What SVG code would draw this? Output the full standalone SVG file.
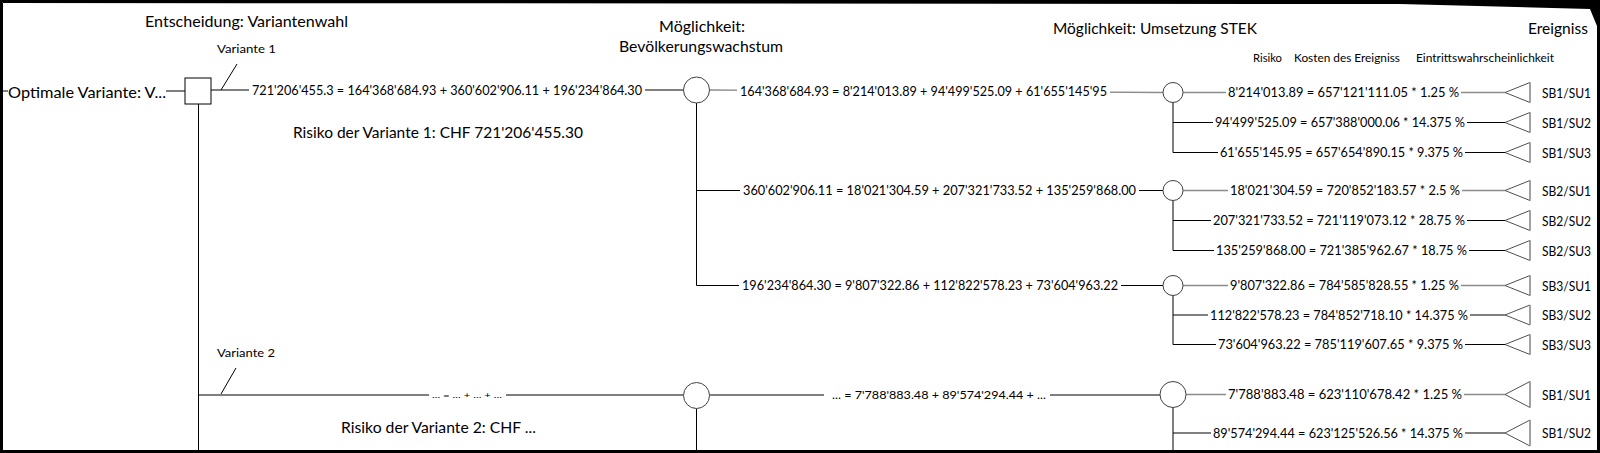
<svg xmlns="http://www.w3.org/2000/svg" width="1600" height="453" viewBox="0 0 1600 453">
<style>
text{font-family:Lato,"Open Sans","Liberation Sans",sans-serif;fill:#000}
.h{font-size:15px}
.m{font-size:13px}
.s{font-size:12px}
.xs{font-size:11px}
.t{font-size:8px}
.sb{font-size:14px}
.k{stroke:#000;stroke-width:1;fill:none}
.g{stroke:#8c8c8c;stroke-width:1.3;fill:none}
.bg{fill:#fff}
.c{fill:#fff;stroke:#404040;stroke-width:1}
.sq{fill:#fff;stroke:#000;stroke-width:1}
.tri{fill:#fff;stroke:#505050;stroke-width:1}
.tr{stroke:#a0a0a0;stroke-width:1.6}
</style>
<polygon points="0,0 1600,0 1600,453 0,453 0,0 3,3 3,450 1597,450 1597,26 1590,9 1400,4 3,3" fill="#000" fill-rule="evenodd"/>

<g id="headers">
<text class="h" x="145" y="27" textLength="203" lengthAdjust="spacingAndGlyphs">Entscheidung: Variantenwahl</text>
<text class="h" x="659" y="32" textLength="86" lengthAdjust="spacingAndGlyphs">Möglichkeit:</text>
<text class="h" x="619" y="52" textLength="164" lengthAdjust="spacingAndGlyphs">Bevölkerungswachstum</text>
<text class="h" x="1053" y="34" textLength="204" lengthAdjust="spacingAndGlyphs">Möglichkeit: Umsetzung STEK</text>
<text class="h" x="1528" y="34" textLength="60" lengthAdjust="spacingAndGlyphs">Ereigniss</text>
<text class="xs" x="1253" y="62" textLength="29" lengthAdjust="spacingAndGlyphs">Risiko</text>
<text class="xs" x="1294" y="62" textLength="106" lengthAdjust="spacingAndGlyphs">Kosten des Ereigniss</text>
<text class="xs" x="1416" y="62" textLength="138" lengthAdjust="spacingAndGlyphs">Eintrittswahrscheinlichkeit</text>
<text class="h" x="293" y="138" textLength="290" lengthAdjust="spacingAndGlyphs">Risiko der Variante 1: CHF 721'206'455.30</text>
<text class="h" x="341" y="433" textLength="195" lengthAdjust="spacingAndGlyphs">Risiko der Variante 2: CHF ...</text>
</g>

<g id="connectors">
<line class="k" x1="3" y1="91" x2="8" y2="91"/>
<line class="k" x1="166" y1="91" x2="185" y2="91"/>
<line class="k" x1="211" y1="90" x2="683.5" y2="90"/>
<line class="k" x1="237" y1="64" x2="221" y2="90"/>
<line class="k" x1="198.5" y1="104" x2="198.5" y2="453"/>
<line class="k" x1="198.5" y1="395" x2="683.5" y2="395"/>
<line class="k" x1="236" y1="368" x2="221" y2="394"/>
<line class="g" x1="710" y1="90" x2="1163" y2="92.5"/>
<line class="k" x1="696.5" y1="103" x2="696.5" y2="285.5"/>
<line class="k" x1="696.5" y1="190.5" x2="1163" y2="190.5"/>
<line class="k" x1="696.5" y1="285.5" x2="1163" y2="285.5"/>
<line class="k" x1="696.5" y1="408.5" x2="696.5" y2="453"/>
<line class="k" x1="709.5" y1="395" x2="1160" y2="395"/>
<line class="k" x1="1173" y1="102.5" x2="1173" y2="152.5"/>
<line class="k" x1="1173" y1="200.5" x2="1173" y2="250.5"/>
<line class="k" x1="1173" y1="295.5" x2="1173" y2="344.5"/>
<line class="k" x1="1173" y1="407.5" x2="1173" y2="453"/>
<line class="g" x1="1183" y1="92.5" x2="1505" y2="92.5"/>
<line class="k" x1="1173" y1="122.5" x2="1505" y2="122.5"/>
<line class="k" x1="1173" y1="152.5" x2="1505" y2="152.5"/>
<line class="g" x1="1183" y1="190.5" x2="1505" y2="190.5"/>
<line class="k" x1="1173" y1="220.5" x2="1505" y2="220.5"/>
<line class="k" x1="1173" y1="250.5" x2="1505" y2="250.5"/>
<line class="g" x1="1183" y1="285.5" x2="1505" y2="285.5"/>
<line class="k" x1="1173" y1="315" x2="1505" y2="315"/>
<line class="k" x1="1173" y1="344.5" x2="1505" y2="344.5"/>
<line class="g" x1="1186" y1="394.5" x2="1505" y2="394.5"/>
<line class="k" x1="1173" y1="433" x2="1505" y2="433"/>
</g>

<g id="labels">
<rect class="bg" x="249" y="83" width="396" height="15"/>
<text class="m" x="252" y="95" textLength="390" lengthAdjust="spacingAndGlyphs">721'206'455.3 = 164'368'684.93 + 360'602'906.11 + 196'234'864.30</text>
<text class="s" x="217" y="53" textLength="59" lengthAdjust="spacingAndGlyphs">Variante 1</text>
<text class="s" x="217" y="357" textLength="58" lengthAdjust="spacingAndGlyphs">Variante 2</text>
<rect class="bg" x="429" y="389" width="77" height="12"/>
<text class="t" x="432" y="398" textLength="70" lengthAdjust="spacingAndGlyphs">... = ... + ... + ...</text>
<rect class="bg" x="737" y="84" width="373" height="15"/>
<text class="m" x="740" y="96" textLength="367" lengthAdjust="spacingAndGlyphs">164'368'684.93 = 8'214'013.89 + 94'499'525.09 + 61'655'145'95</text>
<rect class="bg" x="740" y="183" width="399" height="15"/>
<text class="m" x="743" y="195" textLength="393" lengthAdjust="spacingAndGlyphs">360'602'906.11 = 18'021'304.59 + 207'321'733.52 + 135'259'868.00</text>
<rect class="bg" x="739" y="278" width="382" height="15"/>
<text class="m" x="742" y="290" textLength="376" lengthAdjust="spacingAndGlyphs">196'234'864.30 = 9'807'322.86 + 112'822'578.23 + 73'604'963.22</text>
<rect class="bg" x="824" y="388" width="226" height="14"/>
<text class="xs" x="832" y="399" textLength="214" lengthAdjust="spacingAndGlyphs">... = 7'788'883.48 + 89'574'294.44 + ...</text>

<rect class="bg" x="1226" y="85" width="235" height="15"/>
<text class="m" x="1228" y="97" textLength="231" lengthAdjust="spacingAndGlyphs">8'214'013.89 = 657'121'111.05 * 1.25 %</text>
<rect class="bg" x="1213" y="115" width="254" height="15"/>
<text class="m" x="1215" y="127" textLength="250" lengthAdjust="spacingAndGlyphs">94'499'525.09 = 657'388'000.06 * 14.375 %</text>
<rect class="bg" x="1218" y="145" width="247" height="15"/>
<text class="m" x="1220" y="157" textLength="243" lengthAdjust="spacingAndGlyphs">61'655'145.95 = 657'654'890.15 * 9.375 %</text>
<rect class="bg" x="1228" y="183" width="234" height="15"/>
<text class="m" x="1230" y="195" textLength="230" lengthAdjust="spacingAndGlyphs">18'021'304.59 = 720'852'183.57 * 2.5 %</text>
<rect class="bg" x="1211" y="213" width="256" height="15"/>
<text class="m" x="1213" y="225" textLength="252" lengthAdjust="spacingAndGlyphs">207'321'733.52 = 721'119'073.12 * 28.75 %</text>
<rect class="bg" x="1214" y="243" width="255" height="15"/>
<text class="m" x="1216" y="255" textLength="251" lengthAdjust="spacingAndGlyphs">135'259'868.00 = 721'385'962.67 * 18.75 %</text>
<rect class="bg" x="1228" y="278" width="233" height="15"/>
<text class="m" x="1230" y="290" textLength="229" lengthAdjust="spacingAndGlyphs">9'807'322.86 = 784'585'828.55 * 1.25 %</text>
<rect class="bg" x="1208" y="307" width="262" height="15"/>
<text class="m" x="1210" y="319.5" textLength="258" lengthAdjust="spacingAndGlyphs">112'822'578.23 = 784'852'718.10 * 14.375 %</text>
<rect class="bg" x="1216" y="337" width="249" height="15"/>
<text class="m" x="1218" y="349" textLength="245" lengthAdjust="spacingAndGlyphs">73'604'963.22 = 785'119'607.65 * 9.375 %</text>
<rect class="bg" x="1226" y="387" width="238" height="15"/>
<text class="m" x="1228" y="399" textLength="234" lengthAdjust="spacingAndGlyphs">7'788'883.48 = 623'110'678.42 * 1.25 %</text>
<rect class="bg" x="1211" y="426" width="254" height="15"/>
<text class="m" x="1213" y="437.5" textLength="250" lengthAdjust="spacingAndGlyphs">89'574'294.44 = 623'125'526.56 * 14.375 %</text>
</g>

<g id="start">
<text class="h" x="8" y="97.5" textLength="158" lengthAdjust="spacingAndGlyphs">Optimale Variante: V...</text>
</g>
<g id="decision">
<rect class="sq" x="185" y="78" width="26" height="26"/>
</g>
<g id="chance-bev-1"><circle class="c" cx="696.5" cy="90" r="13"/></g>
<g id="chance-bev-2"><circle class="c" cx="696.5" cy="395.5" r="13"/></g>
<g id="chance-stek-1"><circle class="c" cx="1173" cy="92.5" r="10"/></g>
<g id="chance-stek-2"><circle class="c" cx="1173" cy="190.5" r="10"/></g>
<g id="chance-stek-3"><circle class="c" cx="1173" cy="285.5" r="10"/></g>
<g id="chance-stek-4"><circle class="c" cx="1173" cy="394.5" r="13"/></g>

<g id="end-sb1-su1"><polygon class="tri" points="1505,92.5 1530,82.5 1530,102.5"/><line class="tr" x1="1530" y1="82.5" x2="1530" y2="102.5"/><text class="sb" x="1542" y="97.5" textLength="49" lengthAdjust="spacingAndGlyphs">SB1/SU1</text></g>
<g id="end-sb1-su2"><polygon class="tri" points="1505,122.5 1530,112.5 1530,132.5"/><line class="tr" x1="1530" y1="112.5" x2="1530" y2="132.5"/><text class="sb" x="1542" y="127.5" textLength="49" lengthAdjust="spacingAndGlyphs">SB1/SU2</text></g>
<g id="end-sb1-su3"><polygon class="tri" points="1505,152.5 1530,142.5 1530,162.5"/><line class="tr" x1="1530" y1="142.5" x2="1530" y2="162.5"/><text class="sb" x="1542" y="157.5" textLength="49" lengthAdjust="spacingAndGlyphs">SB1/SU3</text></g>
<g id="end-sb2-su1"><polygon class="tri" points="1505,190.5 1530,180.5 1530,200.5"/><line class="tr" x1="1530" y1="180.5" x2="1530" y2="200.5"/><text class="sb" x="1542" y="195.5" textLength="49" lengthAdjust="spacingAndGlyphs">SB2/SU1</text></g>
<g id="end-sb2-su2"><polygon class="tri" points="1505,220.5 1530,210.5 1530,230.5"/><line class="tr" x1="1530" y1="210.5" x2="1530" y2="230.5"/><text class="sb" x="1542" y="225.5" textLength="49" lengthAdjust="spacingAndGlyphs">SB2/SU2</text></g>
<g id="end-sb2-su3"><polygon class="tri" points="1505,250.5 1530,240.5 1530,260.5"/><line class="tr" x1="1530" y1="240.5" x2="1530" y2="260.5"/><text class="sb" x="1542" y="255.5" textLength="49" lengthAdjust="spacingAndGlyphs">SB2/SU3</text></g>
<g id="end-sb3-su1"><polygon class="tri" points="1505,285.5 1530,275.5 1530,295.5"/><line class="tr" x1="1530" y1="275.5" x2="1530" y2="295.5"/><text class="sb" x="1542" y="290.5" textLength="49" lengthAdjust="spacingAndGlyphs">SB3/SU1</text></g>
<g id="end-sb3-su2"><polygon class="tri" points="1505,315 1530,305 1530,325"/><line class="tr" x1="1530" y1="305" x2="1530" y2="325"/><text class="sb" x="1542" y="320" textLength="49" lengthAdjust="spacingAndGlyphs">SB3/SU2</text></g>
<g id="end-sb3-su3"><polygon class="tri" points="1505,344.5 1530,334.5 1530,354.5"/><line class="tr" x1="1530" y1="334.5" x2="1530" y2="354.5"/><text class="sb" x="1542" y="349.5" textLength="49" lengthAdjust="spacingAndGlyphs">SB3/SU3</text></g>
<g id="end-v2-sb1-su1"><polygon class="tri" points="1505,394.5 1530,381.5 1530,407.5"/><line class="tr" x1="1530" y1="381.5" x2="1530" y2="407.5"/><text class="sb" x="1542" y="399.5" textLength="49" lengthAdjust="spacingAndGlyphs">SB1/SU1</text></g>
<g id="end-v2-sb1-su2"><polygon class="tri" points="1505,433 1530,420 1530,446"/><line class="tr" x1="1530" y1="420" x2="1530" y2="446"/><text class="sb" x="1542" y="438" textLength="49" lengthAdjust="spacingAndGlyphs">SB1/SU2</text></g>
</svg>
